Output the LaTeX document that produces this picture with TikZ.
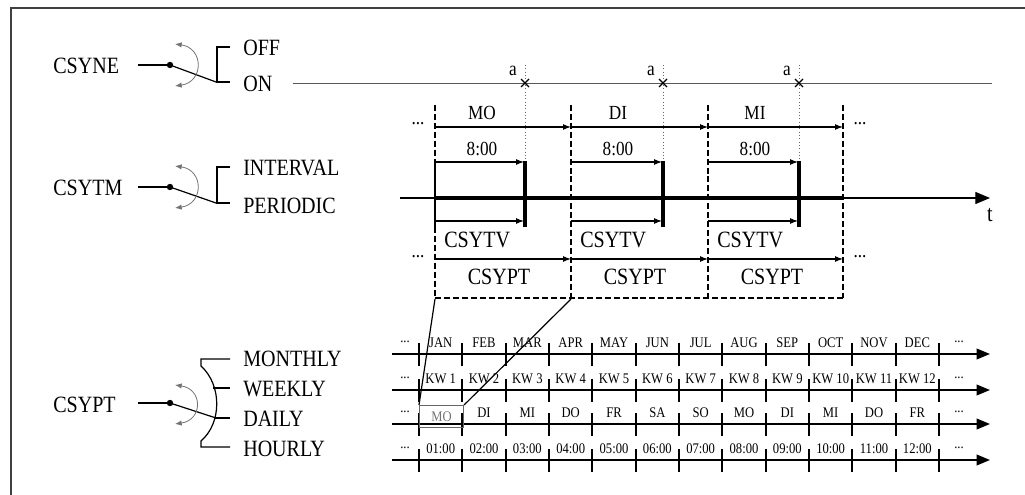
\documentclass[tikz,border=0pt]{standalone}
\usepackage{fontspec}
\setmainfont{Liberation Serif}
\newfontfamily\narrowserif{Liberation Serif}[FakeStretch=0.86]
\usetikzlibrary{arrows.meta}
\begin{document}
\begin{tikzpicture}[x=0.75pt,y=-0.75pt,
  big/.style={font=\narrowserif\fontsize{17.5}{17.5}\selectfont, inner sep=0pt},
  med/.style={font=\narrowserif\fontsize{15}{15}\selectfont, inner sep=0pt},
  small/.style={font=\narrowserif\fontsize{11}{11}\selectfont, inner sep=0pt},
  ln/.style={line width=0.9pt},
  arr/.style={line width=0.8pt, -{Latex[length=6pt,width=4.5pt]}},
  swarc/.style={black!55, line width=0.6pt, {Latex[length=5pt,width=4pt]}-{Latex[length=5pt,width=4pt]}},
  dsh/.style={line width=1.2pt, dash pattern=on 4.5pt off 2.2pt},
  rowline/.style={line width=1.1pt, -{Triangle[length=10pt,width=8pt]}},
  tick/.style={line width=1.6pt},
  dotx/.style={black!60, line width=0.5pt, dotted}
]
\useasboundingbox (0,0) rectangle (1025,495);
% frame
\draw[line width=1pt, black!75] (11,495) -- (11,8) -- (1025,8);

% ---------- switch CSYNE ----------
\node[big, anchor=west] (csyne) at (53,66) {CSYNE};
\coordinate (nedot) at (170,65);
\coordinate (neblade) at (216,82);
\draw[ln] (138,65) -- (nedot);
\fill (nedot) circle[radius=2.4pt];
\draw[ln] (nedot) -- (neblade);
\draw[swarc] (175,44) .. controls (204,48) and (204,82) .. (175,86);
\draw[ln] (230,47) -- (217,47) -- (217,82) -- (230,82);
\node[big, anchor=west] (off) at (243,48) {OFF};
\node[big, anchor=west] (on) at (243,84) {ON};
\coordinate (onend) at (992,83);
\draw[black!65, line width=0.7pt] ([xshift=15pt]on.east |- onend) -- (onend);

% ---------- switch CSYTM ----------
\node[big, anchor=west] (csytm) at (53,188) {CSYTM};
\coordinate (tmdot) at (170,187);
\coordinate (tmblade) at (216,203);
\draw[ln] (138,187) -- (tmdot);
\fill (tmdot) circle[radius=2.4pt];
\draw[ln] (tmdot) -- (tmblade);
\draw[swarc] (175,166) .. controls (204,170) and (204,204) .. (175,208);
\draw[ln] (230,167) -- (217,167) -- (217,203) -- (230,203);
\node[big, anchor=west] (interval) at (243,168) {INTERVAL};
\node[big, anchor=west] (periodic) at (243,206) {PERIODIC};

% ---------- switch CSYPT ----------
\node[big, anchor=west] (csypt) at (53,405) {CSYPT};
\coordinate (ptdot) at (170,403);
\coordinate (ptblade) at (216,418);
\draw[ln] (138,403) -- (ptdot);
\fill (ptdot) circle[radius=2.4pt];
\draw[ln] (ptdot) -- (ptblade);
\draw[swarc] (175,385) .. controls (203,389) and (203,420) .. (175,424);
\draw[ln] (230,359) -- (201,359) -- (201,366) .. controls (222,385) and (222,423) .. (201,441) -- (201,447) -- (230,447);
\draw[ln] (213,388) -- (230,388);
\draw[ln] (215,418) -- (230,418);
\node[big, anchor=west] (monthly) at (243,359) {MONTHLY};
\node[big, anchor=west] (weekly) at (243,389) {WEEKLY};
\node[big, anchor=west] (daily) at (243,419) {DAILY};
\node[big, anchor=west] (hourly) at (243,449) {HOURLY};

% ---------- timing diagram ----------
% a markers
\foreach \x/\n in {525/1,663/2,799/3}{
  \coordinate (a\n) at (\x,83);
  \draw[dotx] (\x,65) -- (\x,162);
  \draw[line width=1pt] ([shift={(-4,-4)}]a\n) -- ([shift={(4,4)}]a\n)
                        ([shift={(-4,4)}]a\n) -- ([shift={(4,-4)}]a\n);
  \node[med] (alab\n) at ({\x-12},71) {a};
}
% time axis
\coordinate (ax0) at (400,198);
\coordinate (ax1) at (435,198);
\coordinate (ax2) at (843,198);
\coordinate (ax3) at (990,198);
\draw[ln] (ax0) -- (ax1);
\draw[line width=3pt] (ax1) -- (ax2);
\draw[ln, -{Triangle[length=11pt,width=9pt]}] (ax2) -- (ax3);
\node[big] (tlab) at (990,215) {t};

% dashed period boundaries
\draw[dsh] (435,105) -- (435,162);
\draw[line width=1.2pt] (435,162) -- (435,227);
\draw[dsh] (435,227) -- (435,298);
\draw[dsh] (571,105) -- (571,298);
\draw[dsh] (708,105) -- (708,298);
\draw[dsh] (843,105) -- (843,298);
\draw[dsh] (435,298) -- (843,298);

\foreach \s/\e/\b/\d/\n in {435/571/525/MO/1,571/708/663/DI/2,708/843/799/MI/3}{
  \node[med] (day\n) at ({\s+47},113) {\d};
  \draw[arr] (\s,127) -- (\e,127);
  \node[med] (eight\n) at ({\s+47},149) {8:00};
  \draw[arr] (\s,162) -- ({\b-1},162);
  \draw[line width=2.4pt] (\b,161) -- (\b,227);
  \draw[arr] (\s,221) -- ({\b-1},221);
  \node[big, anchor=west] (tv\n) at ({\s+9},240) {CSYTV};
  \draw[arr] (\s,259) -- (\e,259);
  \node[big] (pt\n) at ({\s+64},277) {CSYPT};
}
\node[med] (dl1) at (418,124) {...};
\node[med] (dl2) at (418,257) {...};
\node[med] (dr1) at (860,124) {...};
\node[med] (dr2) at (860,257) {...};

% ---------- calendar rows ----------
\foreach \y/\labs in {354/{JAN,FEB,MAR,APR,MAY,JUN,JUL,AUG,SEP,OCT,NOV,DEC},
                      390/{KW 1,KW 2,KW 3,KW 4,KW 5,KW 6,KW 7,KW 8,KW 9,KW 10,KW 11,KW 12},
                      424/{MO,DI,MI,DO,FR,SA,SO,MO,DI,MI,DO,FR},
                      460/{01:00,02:00,03:00,04:00,05:00,06:00,07:00,08:00,09:00,10:00,11:00,12:00}}{
  \draw[rowline] (392,\y) -- (990,\y);
  \foreach \k in {0,...,12}{
    \draw[tick] ({419+43.33*\k},{\y-11}) -- ({419+43.33*\k},{\y+12});
  }
  \foreach \t [count=\k from 0] in \labs{
    \ifnum\y=424 \ifnum\k=0 \else
      \node[small] at ({440.7+43.33*\k},{\y-11}) {\t};
    \fi\else
      \node[small] at ({440.7+43.33*\k},{\y-11}) {\t};
    \fi
  }
  \node[small] at (405,{\y-12}) {...};
  \node[small] at (959,{\y-12}) {...};
}
% MO box (zoomed day)
\node[small, text=black!55, draw=black!60, line width=0.8pt, minimum width=44*0.75pt, minimum height=22*0.75pt, anchor=north west] (mobox) at (419,405) {MO};
\draw[ln] (435,299) -- (mobox.north west);
\draw[ln] (571,299) -- (mobox.north east);
\end{tikzpicture}
\end{document}
